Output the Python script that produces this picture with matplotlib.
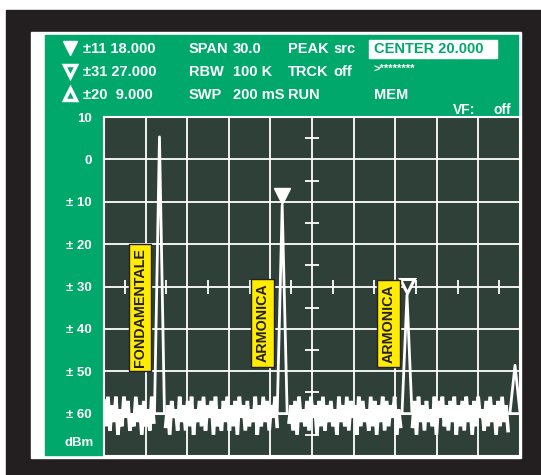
import matplotlib
matplotlib.use('Agg')
import matplotlib.pyplot as plt
import numpy as np
from matplotlib.patches import Rectangle

# spectrum analyzer screen: span 5..35 MHz, level -70..10 dBm
f_start = 5.0
f_stop = 35.0
ref_top = 10
ref_bottom = -70

y_ticks = [10, 0, -10, -20, -30, -40, -50, -60]
y_tick_labels = ['10', '0', '± 10', '± 20', '± 30', '± 40', '± 50', '± 60']

# peaks: frequency, level (dBm), base half width
peak_freqs = [9.0, 17.85, 26.85, 34.64]
peak_levels = [5.3, -10.8, -32.0, -48.6]
peak_half = [0.36, 0.36, 0.36, 0.37]
floor_level = -60

# markers (filled / outlined) on the harmonics
marker_freqs = [17.85, 26.85]
marker_levels = [-8.7, -29.8]

# labels on yellow tags
tag_texts = ['FONDAMENTALE', 'ARMONICA', 'ARMONICA']
tag_freqs = [7.6, 16.45, 25.5]
tag_levels = [-35.0, -38.6, -38.8]

# noise floor trace (dBm)
noise = [
    -57, -63, -56, -64, -58, -62, -56, -65, -59, -63,
    -56, -61, -57, -64, -60, -63, -56, -62, -58, -65,
    -57, -63, -59, -64, -56, -62, -57, -60, -58, -64,
    -56, -63, -58, -65, -57, -61, -59, -64, -56, -62,
    -58, -64, -57, -63, -56, -65, -59, -62, -57, -63,
    -56, -64, -58, -61, -57, -65, -56, -63, -59, -64,
    -57, -62, -56, -64, -58, -63, -57, -65, -56, -61,
    -58, -64, -57, -63, -59, -62, -56, -65, -58, -63,
    -56, -62, -57, -64, -58, -61, -56, -63, -59, -65,
    -57, -63, -56, -62, -58, -64, -57, -65, -56, -62,
    -59, -63, -57, -64, -56, -61, -58, -65, -57, -63,
    -56, -64, -58, -62, -57, -63, -59, -65, -56, -62,
    -58, -63, -56, -64, -57, -61, -58, -65, -56, -63,
    -57, -62, -59, -64, -56, -63, -57, -65, -58, -62,
    -56, -64, -57, -63, -58, -61, -56, -65, -59, -63,
    -57, -62, -56, -64, -58, -63, -57, -65, -56, -62,
    -58, -64, -57, -62, -59, -63, -56, -65, -57, -61,
    -56, -63, -58, -64, -57, -62, -56, -65, -58, -63,
    -57, -64, -56, -62, -58, -65, -57, -63, -56, -61,
    -59, -64, -57, -63, -56, -62, -58, -65, -57, -63,
    -56, -62, -58, -64, -57, -63, -56, -65, -59, -62,
]

# header lines
header_rows = [
    ('±11 18.000', 'SPAN', '30.0', 'PEAK', 'src'),
    ('±31 27.000', 'RBW', '100 K', 'TRCK', 'off'),
    ('±20  9.000', 'SWP', '200 mS', 'RUN', ''),
]

green = '#00a86b'
screen = '#2f4039'
dark = '#231f20'
yellow = '#ffec00'

plt.rcParams['font.family'] = ['Liberation Sans', 'DejaVu Sans']
plt.rcParams['font.weight'] = 'bold'

fig = plt.figure(figsize=(5.41, 4.75), dpi=100)
fig.patch.set_facecolor('white')

# background drawn in pixel coordinates
bg = fig.add_axes([0, 0, 1, 1])
bg.set_xlim(0, 541)
bg.set_ylim(475, 0)
bg.axis('off')
bg.add_patch(Rectangle((6, 10), 535, 465, color=dark))
bg.add_patch(Rectangle((31, 32), 490, 426, color='white'))
bg.add_patch(Rectangle((45, 35), 473, 420, color=green))

# header text
row_y = [49, 72, 95]
for y, (m, c1, v1, c2, v2) in zip(row_y, header_rows):
    bg.text(83, y, m, color='white', fontsize=10.5, va='center')
    bg.text(189, y, c1, color='white', fontsize=10.5, va='center')
    bg.text(233, y, v1, color='white', fontsize=10.5, va='center')
    bg.text(288, y, c2, color='white', fontsize=10.5, va='center')
    bg.text(333, y, v2, color='white', fontsize=10.5, va='center')

bg.plot([69.5], [48], marker='v', ms=9.5, color='white', mec='white')
bg.plot([69.5], [71], marker='v', ms=8, mfc=green, mec='white', mew=2.5)
bg.plot([69.5], [94], marker='^', ms=8, mfc=green, mec='white', mew=2.5)

bg.add_patch(Rectangle((369, 40), 128, 18, color='white'))
bg.text(374, 49, 'CENTER 20.000', color=green, fontsize=10.5, va='center')
bg.text(374, 69, '>********', color='white', fontsize=8, va='center')
bg.text(374, 95, 'MEM', color='white', fontsize=10.5, va='center')
bg.text(453, 110, 'VF:', color='white', fontsize=10, va='center')
bg.text(493, 110, 'off', color='white', fontsize=10, va='center')
bg.text(94, 443, 'dBm', color='white', fontsize=9.5, va='center', ha='right')

# screen
ax = fig.add_axes([104 / 541, (475 - 456) / 475, 416 / 541, 339 / 475])
ax.set_facecolor(screen)
ax.set_xlim(f_start, f_stop)
ax.set_ylim(ref_bottom, ref_top)
ax.set_xticks(np.arange(f_start, f_stop + 0.1, 3))
ax.set_yticks(np.arange(ref_bottom, ref_top + 1, 10))
ax.set_xticklabels([])
ax.set_yticklabels([''] + y_tick_labels[::-1])
ax.tick_params(length=0)
ax.tick_params(axis='y', pad=9, labelcolor='white', labelsize=9.5)
ax.grid(True, color='white', lw=1.3)
ax.set_axisbelow(True)
for s in ax.spines.values():
    s.set_color('white')
    s.set_linewidth(1.5)

# centre cross ticks
fc = (f_start + f_stop) / 2
half_x = np.arange(f_start + 1.5, f_stop, 3)
half_y = np.arange(ref_bottom + 5, ref_top, 10)
ax.plot(half_x, np.full(len(half_x), -30), '|', color='white', ms=10, mew=1.3)
ax.plot(np.full(len(half_y), fc), half_y, '_', color='white', ms=10, mew=1.3)

# noise, cut out where the peaks are
fn = np.linspace(f_start, f_stop, len(noise))
nv = np.array(noise, dtype=float)
for p, h in zip(peak_freqs, peak_half):
    nv[np.abs(fn - p) < h] = np.nan
ax.plot(fn, nv, color='white', lw=2.6, solid_joinstyle='miter')

# peaks as thin triangles on the floor
for p, lvl, h in zip(peak_freqs, peak_levels, peak_half):
    ax.plot([p - h, p, p + h, p - h], [floor_level, lvl, floor_level, floor_level],
            color='white', lw=2.0, clip_on=True)

# markers
ax.plot(marker_freqs[0], marker_levels[0], marker='v', ms=11, color='white')
ax.plot(marker_freqs[1], marker_levels[1], marker='v', ms=10,
        mfc=screen, mec='white', mew=2.2)

# yellow tags
for t, x, y in zip(tag_texts, tag_freqs, tag_levels):
    ax.text(x, y, t, rotation=90, ha='center', va='center', color=dark,
            fontsize=10.3, fontweight='bold',
            family=['Liberation Sans Narrow', 'Liberation Sans'],
            bbox=dict(boxstyle='square,pad=0.3', fc=yellow, ec=dark, lw=1))

fig.savefig('out.png', dpi=100)
